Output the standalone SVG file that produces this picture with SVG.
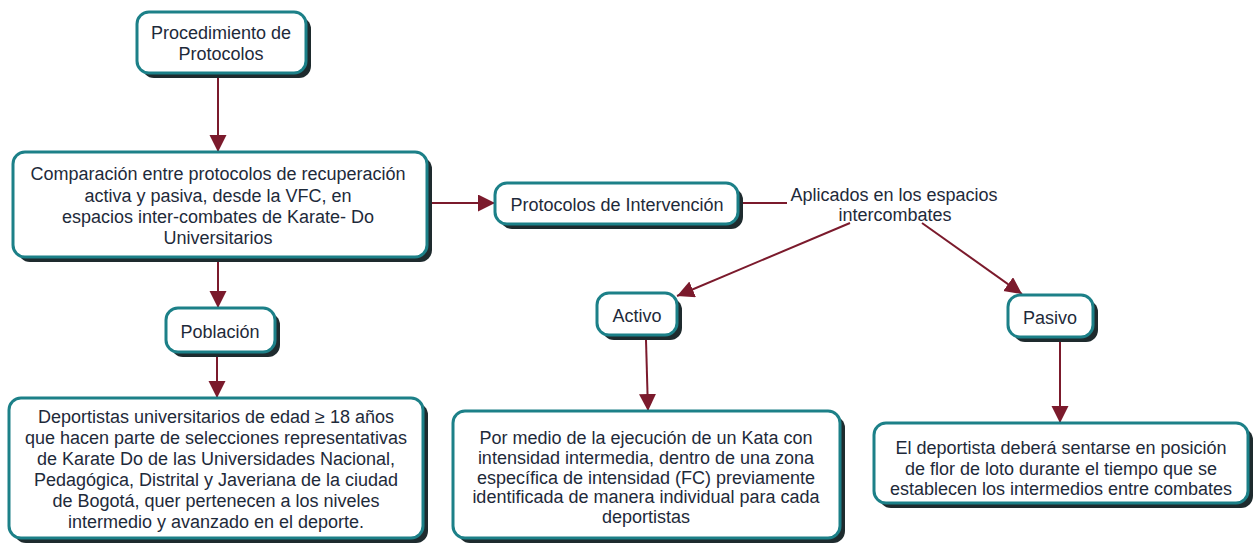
<svg xmlns="http://www.w3.org/2000/svg" width="1257" height="548" viewBox="0 0 1257 548">
<style>
.box{fill:#ffffff;stroke:#1c8088;stroke-width:3}
.sh{fill:#1e2b2e}
.t{font-family:"Liberation Sans",Arial,sans-serif;font-size:18px;fill:#1e2a3a;text-anchor:middle}
.c{stroke:#7b1a2c;stroke-width:2;fill:none}
</style>
<defs>
<marker id="ah" markerUnits="userSpaceOnUse" markerWidth="18" markerHeight="18" refX="17" refY="8.5" orient="auto">
<path d="M0,0 L17,8.5 L0,17 z" fill="#7b1a2c"/>
</marker>
</defs>
<rect width="1257" height="548" fill="#ffffff"/>
<g id="connectors">
<line class="c" x1="218" y1="75" x2="218" y2="152" marker-end="url(#ah)"/>
<line class="c" x1="429" y1="203" x2="495" y2="203" marker-end="url(#ah)"/>
<line class="c" x1="740" y1="203" x2="787" y2="203"/>
<line class="c" x1="850" y1="223" x2="677" y2="296" marker-end="url(#ah)"/>
<line class="c" x1="922" y1="223" x2="1022" y2="294" marker-end="url(#ah)"/>
<line class="c" x1="218" y1="262" x2="218" y2="308" marker-end="url(#ah)"/>
<line class="c" x1="217" y1="357" x2="217" y2="398" marker-end="url(#ah)"/>
<line class="c" x1="646" y1="340" x2="648" y2="411" marker-end="url(#ah)"/>
<line class="c" x1="1060" y1="342" x2="1060" y2="423" marker-end="url(#ah)"/>
</g>
<g id="n1">
<rect class="sh" x="142" y="17" width="169" height="61" rx="12"/>
<rect class="box" x="137" y="12" width="169" height="61" rx="12"/>
<text class="t" x="221" y="39">Procedimiento de</text>
<text class="t" x="221" y="60">Protocolos</text>
</g>
<g id="n2">
<rect class="sh" x="18" y="157" width="414" height="105" rx="12"/>
<rect class="box" x="13" y="152" width="414" height="105" rx="12"/>
<text class="t" x="218" y="180">Comparación entre protocolos de recuperación</text>
<text class="t" x="218" y="202">activa y pasiva, desde la VFC, en</text>
<text class="t" x="218" y="223">espacios inter-combates de Karate- Do</text>
<text class="t" x="218" y="244">Universitarios</text>
</g>
<g id="n3">
<rect class="sh" x="500" y="188" width="243" height="41" rx="12"/>
<rect class="box" x="495" y="183" width="243" height="41" rx="12"/>
<text class="t" x="617" y="211">Protocolos de Intervención</text>
</g>
<g id="label">
<text class="t" x="894" y="201">Aplicados en los espacios</text>
<text class="t" x="895" y="221">intercombates</text>
</g>
<g id="n4">
<rect class="sh" x="171" y="313" width="109" height="44" rx="12"/>
<rect class="box" x="166" y="308" width="109" height="44" rx="12"/>
<text class="t" x="220" y="338">Población</text>
</g>
<g id="n5">
<rect class="sh" x="602" y="298" width="80" height="42" rx="12"/>
<rect class="box" x="597" y="293" width="80" height="42" rx="12"/>
<text class="t" x="637" y="322">Activo</text>
</g>
<g id="n6">
<rect class="sh" x="1013" y="300" width="85" height="42" rx="12"/>
<rect class="box" x="1008" y="295" width="85" height="42" rx="12"/>
<text class="t" x="1050" y="324">Pasivo</text>
</g>
<g id="n7">
<rect class="sh" x="14" y="403" width="414" height="140" rx="12"/>
<rect class="box" x="9" y="398" width="414" height="140" rx="12"/>
<text class="t" x="216" y="423">Deportistas universitarios de edad ≥ 18 años</text>
<text class="t" x="216" y="444">que hacen parte de selecciones representativas</text>
<text class="t" x="216" y="465">de Karate Do de las Universidades Nacional,</text>
<text class="t" x="216" y="486">Pedagógica, Distrital y Javeriana de la ciudad</text>
<text class="t" x="216" y="507">de Bogotá, quer pertenecen a los niveles</text>
<text class="t" x="216" y="528">intermedio y avanzado en el deporte.</text>
</g>
<g id="n8">
<rect class="sh" x="458" y="416" width="387" height="127" rx="12"/>
<rect class="box" x="453" y="411" width="387" height="127" rx="12"/>
<text class="t" x="646" y="444">Por medio de la ejecución de un Kata con</text>
<text class="t" x="646" y="464">intensidad intermedia, dentro de una zona</text>
<text class="t" x="646" y="484">específica de intensidad (FC) previamente</text>
<text class="t" x="646" y="503">identificada de manera individual para cada</text>
<text class="t" x="646" y="523">deportistas</text>
</g>
<g id="n9">
<rect class="sh" x="879" y="428" width="374" height="80" rx="12"/>
<rect class="box" x="874" y="423" width="374" height="80" rx="12"/>
<text class="t" x="1061" y="454">El deportista deberá sentarse en posición</text>
<text class="t" x="1061" y="475">de flor de loto durante el tiempo que se</text>
<text class="t" x="1061" y="495">establecen los intermedios entre combates</text>
</g>
</svg>
